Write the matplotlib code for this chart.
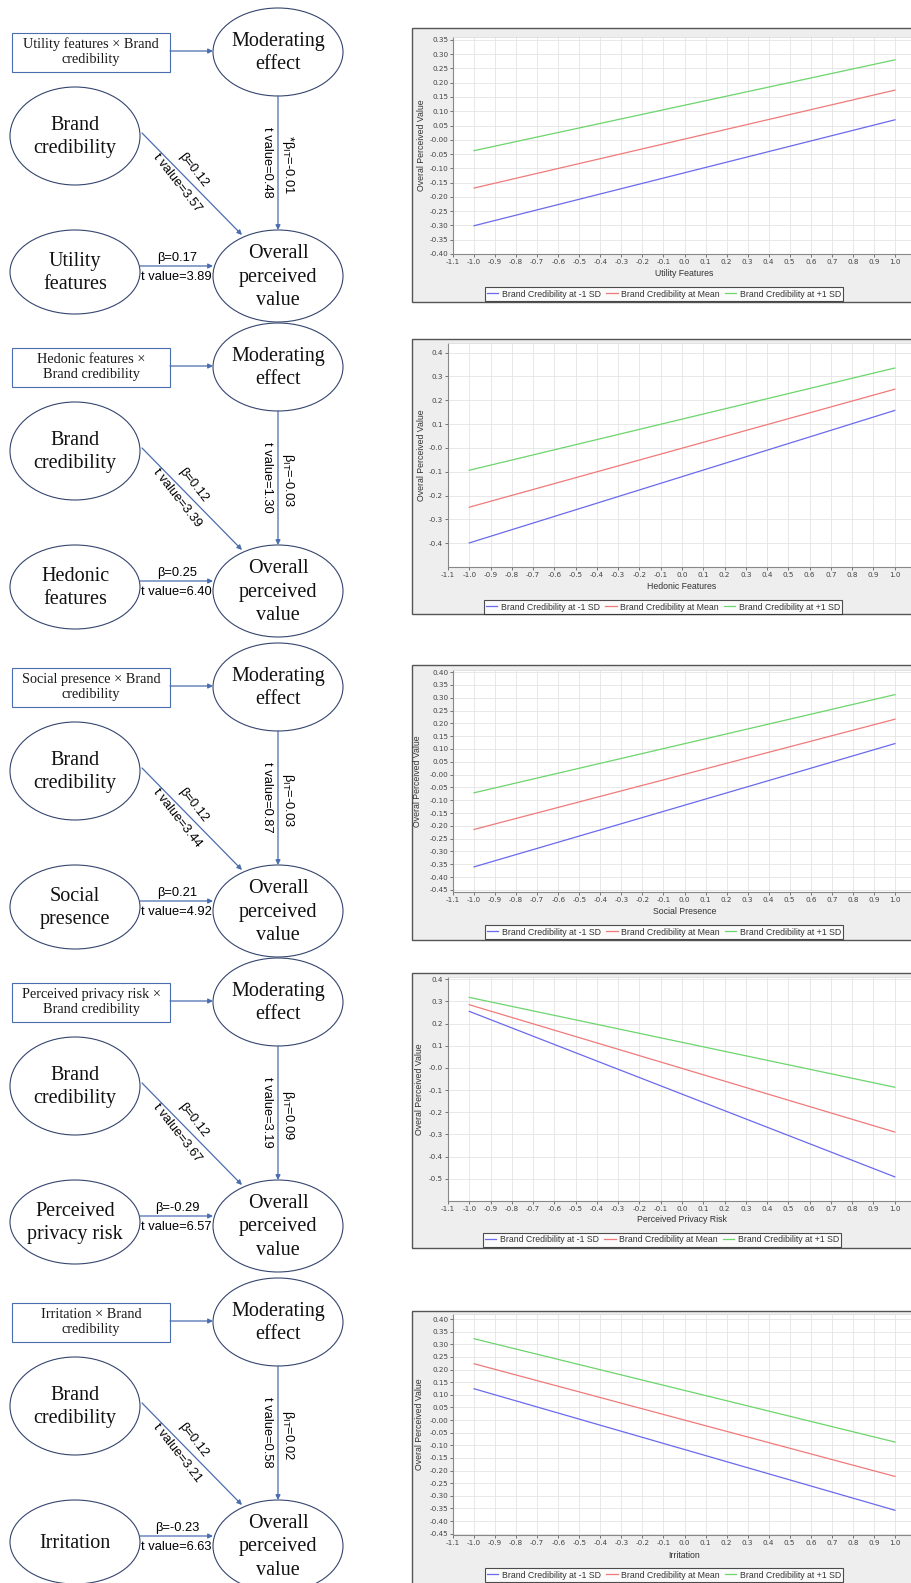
import numpy as np
import matplotlib
matplotlib.use('Agg')
import matplotlib.pyplot as plt
from matplotlib.patches import Ellipse, Rectangle

plt.rcParams['mathtext.fontset'] = 'custom'
plt.rcParams['mathtext.rm'] = 'Liberation Sans'
plt.rcParams['mathtext.it'] = 'Liberation Sans:italic'

W, H = 911, 1583

# ---- diagram texts (one entry per panel) ----
product_terms = ['Utility features × Brand\ncredibility',
                 'Hedonic features ×\nBrand credibility',
                 'Social presence × Brand\ncredibility',
                 'Perceived privacy risk ×\nBrand credibility',
                 'Irritation × Brand\ncredibility']
iv_names = ['Utility\nfeatures', 'Hedonic\nfeatures', 'Social\npresence',
            'Perceived\nprivacy risk', 'Irritation']
beta_it = ['*β$_{\\mathrm{IT}}$=-0.01', 'β$_{\\mathrm{IT}}$=-0.03', 'β$_{\\mathrm{IT}}$=-0.03',
           'β$_{\\mathrm{IT}}$=0.09', 'β$_{\\mathrm{IT}}$=0.02']
t_it = ['t value=0.48', 't value=1.30', 't value=0.87', 't value=3.19', 't value=0.58']
beta_bc = ['β=0.12', 'β=0.12', 'β=0.12', 'β=0.12', 'β=0.12']
t_bc = ['t value=3.57', 't value=3.39', 't value=3.44', 't value=3.67', 't value=3.21']
beta_iv = ['β=0.17', 'β=0.25', 'β=0.21', 'β=-0.29', 'β=-0.23']
t_iv = ['t value=3.89', 't value=6.40', 't value=4.92', 't value=6.57', 't value=6.63']

# ---- simple slope data ----
x_ends = [-1.0, 1.0]
utility_low, utility_mean, utility_high = [-0.301, 0.070], [-0.169, 0.174], [-0.038, 0.280]
hedonic_low, hedonic_mean, hedonic_high = [-0.399, 0.157], [-0.249, 0.246], [-0.094, 0.335]
social_low, social_mean, social_high = [-0.360, 0.121], [-0.214, 0.216], [-0.071, 0.312]
privacy_low, privacy_mean, privacy_high = [0.255, -0.491], [0.285, -0.289], [0.318, -0.087]
irritation_low, irritation_mean, irritation_high = [0.124, -0.357], [0.223, -0.223], [0.322, -0.087]

series_names = ['Brand Credibility at -1 SD', 'Brand Credibility at Mean',
                'Brand Credibility at +1 SD']
x_labels = ['Utility Features', 'Hedonic Features', 'Social Presence',
            'Perceived Privacy Risk', 'Irritation']
y_steps = [0.05, 0.1, 0.05, 0.1, 0.05]
y_tick_min = [-0.40, -0.4, -0.45, -0.5, -0.45]
y_tick_max = [0.35, 0.4, 0.40, 0.4, 0.40]
y_limits = [(-0.40, 0.36), (-0.50, 0.44), (-0.458, 0.408), (-0.60, 0.41), (-0.455, 0.42)]
all_series = [(utility_low, utility_mean, utility_high),
              (hedonic_low, hedonic_mean, hedonic_high),
              (social_low, social_mean, social_high),
              (privacy_low, privacy_mean, privacy_high),
              (irritation_low, irritation_mean, irritation_high)]

# ---- layout (pixels) ----
diag_offsets = [0, 315, 635, 950, 1270]
box_tops = [28, 339, 665, 973, 1311]
box_bottoms = [302, 614, 940, 1248, 1600]
plot_boxes = [(453, 37, 916, 254), (448, 343, 916, 567), (453, 670, 916, 892),
              (448, 977, 916, 1201), (453, 1314, 916, 1535)]
ylabel_x = [422, 421, 418, 420, 420]
xlabel_y = [274, 587, 912, 1220, 1555]
legend_y = [294, 607, 932, 1240, 1575]
legend_x = [664, 663, 664, 662, 664]

line_colors = ['#6a6aee', '#f07a7a', '#6cd56c']
edge_col = '#34456e'
arrow_col = '#4a6db0'
serif = 'Liberation Serif'
sans = 'Liberation Sans'

fig = plt.figure(figsize=(W / 100, H / 100), dpi=100)
bg = fig.add_axes([0, 0, 1, 1])
bg.set_xlim(0, W)
bg.set_ylim(H, 0)
bg.axis('off')


def arrow(x0, y0, x1, y1):
    bg.annotate('', xy=(x1, y1), xytext=(x0, y0),
                arrowprops=dict(arrowstyle='-|>', color=arrow_col, lw=0.9,
                                mutation_scale=7, shrinkA=0, shrinkB=0))


for i, oy in enumerate(diag_offsets):
    # product term box
    bg.add_patch(Rectangle((12, oy + 33), 158, 39, fill=False, ec=arrow_col, lw=0.8))
    bg.text(91, oy + 52, product_terms[i], ha='center', va='center',
            fontsize=10.3, family=serif, color='#1a1a1a', linespacing=1.2)
    # ellipses
    for cx, cy, w, h, s in [(278, oy + 52, 130, 88, 'Moderating\neffect'),
                            (75, oy + 136, 130, 98, 'Brand\ncredibility'),
                            (75, oy + 272, 130, 84, iv_names[i]),
                            (278, oy + 276, 130, 92, 'Overall\nperceived\nvalue')]:
        bg.add_patch(Ellipse((cx, cy), w, h, fill=False, ec=edge_col, lw=0.8))
        bg.text(cx, cy + 1, s, ha='center', va='center', fontsize=14.5,
                family=serif, color='#111111', linespacing=1.3)
    # arrows
    arrow(170, oy + 51, 213, oy + 51)
    arrow(278, oy + 96, 278, oy + 230)
    arrow(142, oy + 133, 242, oy + 235)
    arrow(140, oy + 266, 213, oy + 266)
    # path labels
    bg.text(288, oy + 165, beta_it[i], rotation=-90, ha='center', va='center',
            rotation_mode='anchor', fontsize=9.3, family=sans)
    bg.text(267, oy + 162, t_it[i], rotation=-90, ha='center', va='center',
            rotation_mode='anchor', fontsize=9.3, family=sans)
    bg.text(193, oy + 170, beta_bc[i], rotation=-52, ha='center', va='center',
            rotation_mode='anchor', fontsize=9.3, family=sans)
    bg.text(177, oy + 183, t_bc[i], rotation=-52, ha='center', va='center',
            rotation_mode='anchor', fontsize=9.3, family=sans)
    bg.text(177, oy + 258, beta_iv[i], ha='center', va='center', fontsize=9.3, family=sans)
    bg.text(176, oy + 277, t_iv[i], ha='center', va='center', fontsize=9.3, family=sans)

    # chart panel frame
    bg.add_patch(Rectangle((412, box_tops[i]), 520, box_bottoms[i] - box_tops[i],
                           fc='#eeeeee', ec='#555555', lw=1.0))

# ---- simple slope charts ----
for i in range(5):
    l, t, r, b = plot_boxes[i]
    ax = fig.add_axes([l / W, 1 - b / H, (r - l) / W, (b - t) / H])
    ax.set_facecolor('white')
    for k, ys in enumerate(all_series[i]):
        ax.plot(x_ends, ys, color=line_colors[k], lw=0.9, label=series_names[k])
    ax.set_xlim(-1.1, 1.1)
    ax.set_ylim(*y_limits[i])
    xt = np.round(np.arange(-1.1, 1.05, 0.1), 2)
    ax.set_xticks(xt)
    ax.set_xticklabels([f'{v:.1f}' for v in xt])
    yt = np.round(np.arange(y_tick_min[i], y_tick_max[i] + 1e-6, y_steps[i]), 2)
    ax.set_yticks(yt)
    fmt = '{:.2f}' if y_steps[i] < 0.1 else '{:.1f}'
    ax.set_yticklabels([fmt.format(v) for v in yt])
    ax.grid(True, color='#e4e4e4', lw=0.6)
    ax.set_axisbelow(True)
    ax.tick_params(labelsize=5.2, length=2, width=0.5, pad=1.5, colors='#444444')
    for sp in ['top', 'right']:
        ax.spines[sp].set_color('#dddddd')
        ax.spines[sp].set_linewidth(0.6)
    for sp in ['left', 'bottom']:
        ax.spines[sp].set_color('#888888')
        ax.spines[sp].set_linewidth(0.8)
    ax.set_ylabel('Overal Perceived Value', fontsize=6.3, family=sans, color='#333333')
    ax.yaxis.set_label_coords((ylabel_x[i] - l) / (r - l), 0.5)
    ax.set_xlabel(x_labels[i], fontsize=6.3, family=sans, color='#333333')
    ax.xaxis.set_label_coords(0.5, -(xlabel_y[i] - b) / (b - t))
    ax.xaxis.label.set_va('center')
    ax.yaxis.label.set_va('center')
    leg = ax.legend(loc='center', bbox_to_anchor=(legend_x[i], legend_y[i]),
                    bbox_transform=bg.transData, ncol=3, fontsize=6.3,
                    frameon=True, fancybox=False, edgecolor='#222222',
                    handlelength=1.3, handletextpad=0.4, columnspacing=0.6,
                    borderpad=0.25, borderaxespad=0)
    leg.get_frame().set_linewidth(0.8)
    for txt in leg.get_texts():
        txt.set_family(sans)
        txt.set_color('#333333')

fig.savefig('out.png', dpi=100)
